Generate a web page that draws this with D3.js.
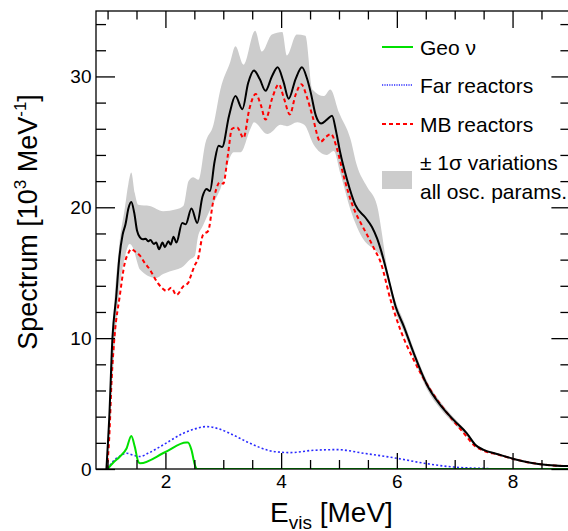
<!DOCTYPE html>
<html>
<head>
<meta charset="utf-8">
<script src="https://cdn.jsdelivr.net/npm/d3@7"></script>
<style>
  html, body { margin: 0; padding: 0; background: #fff; }
  svg { display: block; font-family: "Liberation Sans", Arial, sans-serif; }
</style>
</head>
<body>
<svg id="chart" width="568" height="531"></svg>
<script>
// ---------- data (E_vis [MeV], spectrum [10^3 MeV^-1]) ----------
const totalSpectrum = [[0.98,0],[1.03,4],[1.084,10],[1.15,13.2],[1.2,16],[1.26,17.9],[1.31,18.7],[1.36,19.9],[1.41,20.4],[1.46,19.6],[1.51,18.2],[1.56,17.7],[1.61,17.55],[1.66,17.6],[1.70,17.4],[1.74,17.5],[1.80,17.2],[1.84,17.3],[1.89,16.8],[1.95,17.3],[1.99,16.95],[2.05,17.4],[2.09,17.15],[2.14,17.75],[2.19,17.3],[2.29,18.8],[2.35,18.7],[2.45,19.9],[2.55,18.8],[2.64,20.8],[2.71,21.4],[2.77,21.25],[2.85,23.5],[2.92,24.7],[2.98,24.6],[3.1,27.0],[3.21,28.5],[3.33,27.5],[3.43,29.5],[3.53,30.45],[3.63,29.8],[3.73,28.9],[3.84,30.0],[3.94,30.7],[4.04,29.6],[4.13,28.3],[4.25,29.8],[4.36,30.7],[4.45,29.8],[4.51,28.8],[4.6,27.0],[4.69,26.4],[4.79,26.7],[4.88,27.0],[4.95,25.8],[5.02,24.2],[5.14,22.1],[5.28,20.2],[5.46,19.2],[5.57,18.5],[5.66,17.6],[5.72,16.8],[5.83,15.0],[5.98,12.4],[6.12,10.9],[6.29,8.87],[6.52,6.44],[6.75,4.9],[6.98,3.75],[7.21,2.73],[7.36,1.84],[7.5,1.46],[7.73,1.15],[8.02,0.77],[8.31,0.48],[8.6,0.31],[9.0,0.22]];

const mbReactors = [[0.99,0],[1.03,2.5],[1.07,6.8],[1.12,10.1],[1.21,13.2],[1.3,15.8],[1.36,16.5],[1.41,16.8],[1.48,16.6],[1.56,16.3],[1.65,15.7],[1.73,15.25],[1.8,14.7],[1.87,14.2],[1.95,13.8],[2.02,13.6],[2.1,13.85],[2.19,13.3],[2.31,13.97],[2.39,14.2],[2.45,14.9],[2.51,15.6],[2.56,16.0],[2.65,17.9],[2.74,18.2],[2.82,20.3],[2.94,21.9],[3.0,21.8],[3.08,24.0],[3.15,26.0],[3.24,26.1],[3.35,25.3],[3.45,27.5],[3.56,28.65],[3.65,27.8],[3.73,26.7],[3.85,28.4],[3.96,29.4],[4.05,28.3],[4.15,27.1],[4.25,28.6],[4.35,29.4],[4.44,28.5],[4.54,27.0],[4.68,25.0],[4.78,25.4],[4.86,25.6],[4.97,24.4],[5.08,22.4],[5.23,20.2],[5.4,18.6],[5.51,17.7],[5.6,16.9],[5.72,15.8],[5.89,12.95],[6.06,10.65],[6.29,8.35],[6.58,6.05],[6.87,4.27],[7.16,2.73],[7.36,1.71],[7.5,1.4],[7.73,1.12],[8.02,0.76],[8.31,0.48],[8.6,0.31],[9.0,0.22]];

const farReactors = [[1.0,0],[1.1,0.6],[1.2,0.95],[1.33,1.2],[1.45,1.05],[1.56,0.95],[1.7,1.2],[1.96,1.84],[2.31,2.73],[2.5,3.05],[2.71,3.24],[2.9,3.1],[3.11,2.73],[3.46,1.97],[3.8,1.4],[4.0,1.28],[4.15,1.25],[4.56,1.43],[4.97,1.48],[5.43,1.2],[6.0,0.82],[6.47,0.44],[6.98,0.15],[7.44,0.05],[7.8,0.01],[9.0,0]];

const geoNu = [[1.0,0],[1.1,0.5],[1.21,0.94],[1.33,1.59],[1.41,2.53],[1.47,1.71],[1.53,0.56],[1.56,0.44],[2.0,1.3],[2.36,2.02],[2.39,2.02],[2.45,1.46],[2.51,0.3],[2.55,0],[9.0,0]];

const bandUpper = [[0.98,0],[1.05,5],[1.1,11],[1.2,17],[1.3,20.0],[1.36,21.8],[1.41,22.65],[1.47,21.1],[1.53,20.2],[1.73,20.1],[1.96,19.7],[2.19,19.85],[2.31,20.1],[2.4,22.0],[2.48,22.3],[2.57,22.1],[2.69,24.9],[2.83,26.3],[2.95,29.0],[3.12,31.1],[3.21,32.3],[3.35,30.9],[3.55,33.5],[3.67,31.9],[3.84,33.2],[4.02,33.4],[4.1,31.6],[4.27,33.2],[4.42,33.1],[4.54,29.0],[4.74,28.5],[4.85,29.0],[5.0,27.25],[5.2,25.2],[5.31,23.2],[5.48,21.6],[5.66,20.1],[5.74,18.06],[5.83,15.4],[5.98,12.8],[6.12,11.3],[6.29,9.2],[6.52,6.75],[6.75,5.15],[6.98,3.95],[7.21,2.85],[7.36,1.95],[7.5,1.55],[7.73,1.2],[8.02,0.8],[8.31,0.5],[8.6,0.32],[9.0,0.23]];

const bandLower = [[0.98,0],[1.1,8],[1.2,13.5],[1.3,16.2],[1.38,17.2],[1.45,16.8],[1.5,16.0],[1.56,15.25],[1.84,14.6],[1.96,14.9],[2.07,15.1],[2.19,15.25],[2.31,15.5],[2.42,16.0],[2.51,16.3],[2.56,17.7],[2.65,18.6],[2.75,19.6],[2.95,21.4],[3.18,24.2],[3.3,24.2],[3.47,26.0],[3.53,26.5],[3.76,25.6],[3.82,25.7],[3.99,26.3],[4.1,26.2],[4.28,26.5],[4.4,26.3],[4.56,24.8],[4.79,24.0],[4.91,24.3],[5.02,22.65],[5.2,19.8],[5.43,17.5],[5.6,16.8],[5.72,16.3],[5.83,14.6],[5.98,12.0],[6.12,10.5],[6.29,8.5],[6.52,6.1],[6.75,4.6],[6.98,3.5],[7.21,2.5],[7.36,1.7],[7.5,1.38],[7.73,1.08],[8.02,0.72],[8.31,0.45],[8.6,0.29],[9.0,0.2]];

const xMajorTicks = [2, 4, 6, 8];
const xMinorTicks = [1, 1.5, 2.5, 3, 3.5, 4.5, 5, 5.5, 6.5, 7, 7.5, 8.5];
const yMajorTicks = [0, 10, 20, 30];
const yMinorTicks = [2, 4, 6, 8, 12, 14, 16, 18, 22, 24, 26, 28, 32, 34];

const legendLabels = ["Geo \u03bd", "Far reactors", "MB reactors", "\u00b1 1\u03c3 variations", "all osc. params."];

// ---------- layout ----------
const svg = d3.select("#chart");
const L = 96, R = 570.4, T = 11, B = 469;
const x = d3.scaleLinear().domain([0.8, 9.0]).range([L, R]);
const y = d3.scaleLinear().domain([0, 35]).range([B, T]);

svg.append("defs").append("clipPath").attr("id", "clip")
  .append("rect").attr("x", L).attr("y", T).attr("width", R - L).attr("height", B - T);

const plot = svg.append("g").attr("clip-path", "url(#clip)");

const lineGen = d3.line().curve(d3.curveMonotoneX).x(d => x(d[0])).y(d => y(d[1]));

// ±1σ band: upper edge forward, lower edge backward
const upperPath = lineGen(bandUpper);
const lowerPathRev = lineGen(bandLower.slice().reverse());
plot.append("path")
  .attr("d", upperPath + "L" + lowerPathRev.slice(1) + "Z")
  .attr("fill", "#cccccc").attr("stroke", "none");

plot.append("path").datum(farReactors).attr("d", lineGen)
  .attr("fill", "none").attr("stroke", "#2a2aff").attr("stroke-width", 1.6)
  .attr("stroke-dasharray", "2,2.2");

plot.append("path").datum(mbReactors).attr("d", lineGen)
  .attr("fill", "none").attr("stroke", "#ff0000").attr("stroke-width", 2)
  .attr("stroke-dasharray", "4,3");

plot.append("path").datum(geoNu).attr("d", lineGen)
  .attr("fill", "none").attr("stroke", "#00e000").attr("stroke-width", 2);

plot.append("path").datum(totalSpectrum).attr("d", lineGen)
  .attr("fill", "none").attr("stroke", "#000").attr("stroke-width", 2);

// ---------- axes ----------
const tickFont = 19;
function styleAxis(g) {
  g.select(".domain").remove();
  g.selectAll("line").attr("stroke", "#000").attr("stroke-width", 1.3);
  g.selectAll("text").attr("font-size", tickFont).attr("fill", "#000")
    .attr("font-family", "'Liberation Sans', Arial, sans-serif");
}
svg.append("g").attr("transform", `translate(0,${B})`)
  .call(d3.axisBottom(x).tickValues(xMajorTicks).tickSizeInner(-16).tickSizeOuter(0).tickPadding(5.5).tickFormat(d3.format("d")))
  .call(styleAxis);
svg.append("g").attr("transform", `translate(0,${B})`)
  .call(d3.axisBottom(x).tickValues(xMinorTicks).tickSizeInner(-9).tickSizeOuter(0).tickFormat(""))
  .call(styleAxis);
svg.append("g").attr("transform", `translate(0,${T})`)
  .call(d3.axisTop(x).tickValues(xMajorTicks).tickSizeInner(-17).tickSizeOuter(0).tickFormat(""))
  .call(styleAxis);
svg.append("g").attr("transform", `translate(0,${T})`)
  .call(d3.axisTop(x).tickValues(xMinorTicks).tickSizeInner(-8.5).tickSizeOuter(0).tickFormat(""))
  .call(styleAxis);
svg.append("g").attr("transform", `translate(${L},0)`)
  .call(d3.axisLeft(y).tickValues(yMajorTicks).tickSizeInner(-19).tickSizeOuter(0).tickPadding(4.5).tickFormat(d3.format("d")))
  .call(styleAxis);
svg.append("g").attr("transform", `translate(${L},0)`)
  .call(d3.axisLeft(y).tickValues(yMinorTicks).tickSizeInner(-10).tickSizeOuter(0).tickFormat(""))
  .call(styleAxis);
svg.append("g").attr("transform", `translate(${R},0)`)
  .call(d3.axisRight(y).tickValues(yMajorTicks).tickSizeInner(-19).tickSizeOuter(0).tickFormat(""))
  .call(styleAxis);
svg.append("g").attr("transform", `translate(${R},0)`)
  .call(d3.axisRight(y).tickValues(yMinorTicks).tickSizeInner(-10).tickSizeOuter(0).tickFormat(""))
  .call(styleAxis);

svg.append("rect").attr("x", L).attr("y", T).attr("width", R - L).attr("height", B - T)
  .attr("fill", "none").attr("stroke", "#000").attr("stroke-width", 1.3);

// ---------- titles ----------
const xt = svg.append("text").attr("x", 270).attr("y", 521.5)
  .attr("font-size", 28).attr("fill", "#000");
xt.append("tspan").text("E");
xt.append("tspan").attr("font-size", 19).attr("dy", 7).text("vis");
xt.append("tspan").attr("dy", -7).text(" [MeV]");

const yt = svg.append("text").attr("transform", "translate(36.5,222) rotate(-90)")
  .attr("text-anchor", "middle").attr("font-size", 27).attr("fill", "#000");
yt.append("tspan").text("Spectrum [10");
yt.append("tspan").attr("font-size", 17).attr("dy", -11).text("3");
yt.append("tspan").attr("dy", 11).text(" MeV");
yt.append("tspan").attr("font-size", 17).attr("dy", -11).text("-1");
yt.append("tspan").attr("dy", 11).text("]");

// ---------- legend ----------
const lg = svg.append("g");
const lx0 = 382, lx1 = 413, tx = 420, lf = 21;
lg.append("line").attr("x1", lx0).attr("x2", lx1).attr("y1", 47).attr("y2", 47)
  .attr("stroke", "#00e000").attr("stroke-width", 2);
lg.append("line").attr("x1", lx0).attr("x2", lx1).attr("y1", 85).attr("y2", 85)
  .attr("stroke", "#2a2aff").attr("stroke-width", 1.6).attr("stroke-dasharray", "1.2,1.2");
lg.append("line").attr("x1", lx0).attr("x2", lx1).attr("y1", 124).attr("y2", 124)
  .attr("stroke", "#ff0000").attr("stroke-width", 2).attr("stroke-dasharray", "4,3");
lg.append("rect").attr("x", lx0).attr("y", 171).attr("width", 30).attr("height", 18)
  .attr("fill", "#cccccc");
const ly = [54.5, 93, 131.5, 170, 199];
legendLabels.forEach((t, i) => {
  lg.append("text").attr("x", tx).attr("y", ly[i]).attr("font-size", lf).attr("fill", "#000").text(t);
});
</script>
</body>
</html>
